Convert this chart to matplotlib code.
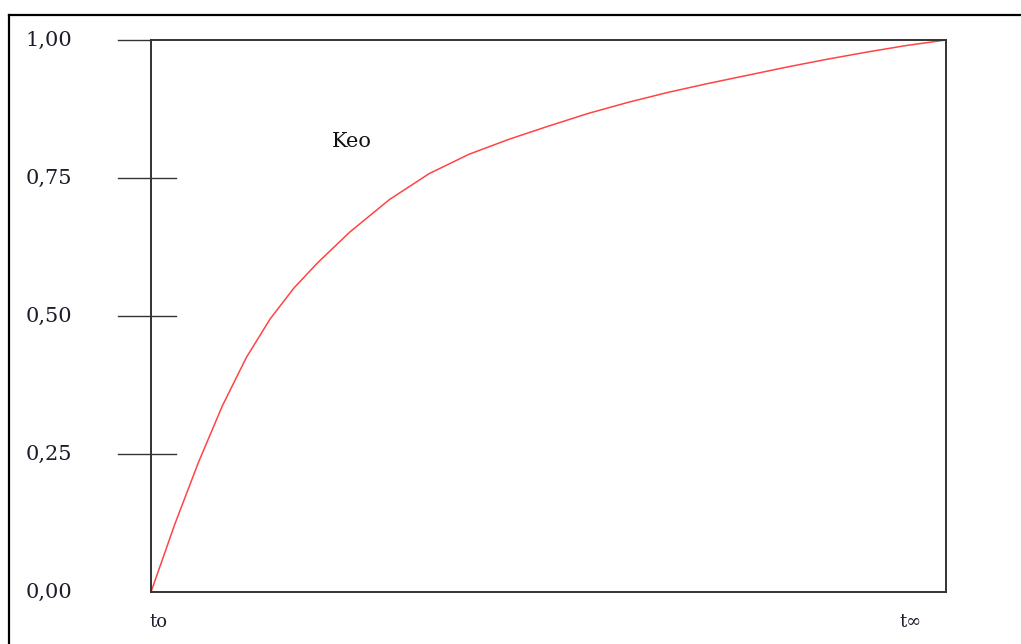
import numpy as np
import matplotlib.pyplot as plt
from matplotlib.lines import Line2D
import matplotlib.transforms as mtransforms


# curve (x: fraction of t0 -> t_inf, y: Keo)
t = [0.0, 0.03, 0.06, 0.09, 0.12, 0.15, 0.18, 0.21, 0.25, 0.30, 0.35, 0.40,
     0.45, 0.50, 0.55, 0.60, 0.65, 0.70, 0.75, 0.80, 0.85, 0.90, 0.95, 1.0]
keo = [0.0, 0.123, 0.236, 0.338, 0.425, 0.495, 0.551, 0.597, 0.652, 0.711,
       0.758, 0.793, 0.820, 0.844, 0.867, 0.887, 0.905, 0.921, 0.936, 0.951,
       0.965, 0.978, 0.990, 1.0]

y_ticks = [0.0, 0.25, 0.50, 0.75, 1.0]
y_labels = ['0,00', '0,25', '0,50', '0,75', '1,00']
x_ticks = [0.009, 0.956]
x_labels = ['to', 't\u221e']

serif = ['DejaVu Serif']
dark = '#333333'

fig = plt.figure(figsize=(10.21, 6.44), dpi=100)
ax = fig.add_axes([151/1021, 1 - 592/644, 795/1021, 552/644])

ax.plot(t, keo, color='#ff4444', lw=1.1)
ax.set_xlim(0, 1)
ax.set_ylim(0, 1)
ax.set_xticks([])
ax.set_yticks([])
for s in ax.spines.values():
    s.set_color(dark)
    s.set_linewidth(1.4)

# hand-drawn style ticks crossing the left axis
trans = mtransforms.blended_transform_factory(ax.transAxes, ax.transData)
for v, lab in zip(y_ticks, y_labels):
    if 0 < v < 1:
        ax.plot([-0.0415, 0.031], [v, v], color=dark, lw=1.0, transform=trans, clip_on=False)
    elif v == 1:
        ax.plot([-0.0415, 0], [v, v], color=dark, lw=1.0, transform=trans, clip_on=False)
    ax.text(-0.128, v, lab, transform=trans, ha='center', va='center',
            fontsize=15, family=serif, color='#1c1c2c')

transx = mtransforms.blended_transform_factory(ax.transData, ax.transAxes)
for v, lab in zip(x_ticks, x_labels):
    ax.text(v, -0.054, lab, transform=transx, ha='center', va='center',
            fontsize=13, family=serif, color='#1c1c2c')

ax.text(0.228, 0.817, 'Keo', ha='left', va='center', fontsize=15,
        family=serif, color='#111111')

# outer frame of the original picture
fig.add_artist(Line2D([9/1021, 1], [1 - 15/644, 1 - 15/644], color='black', lw=1.6,
                      transform=fig.transFigure))
fig.add_artist(Line2D([9/1021, 9/1021], [0, 1 - 15/644], color='black', lw=1.6,
                      transform=fig.transFigure))

plt.savefig('out.png')
